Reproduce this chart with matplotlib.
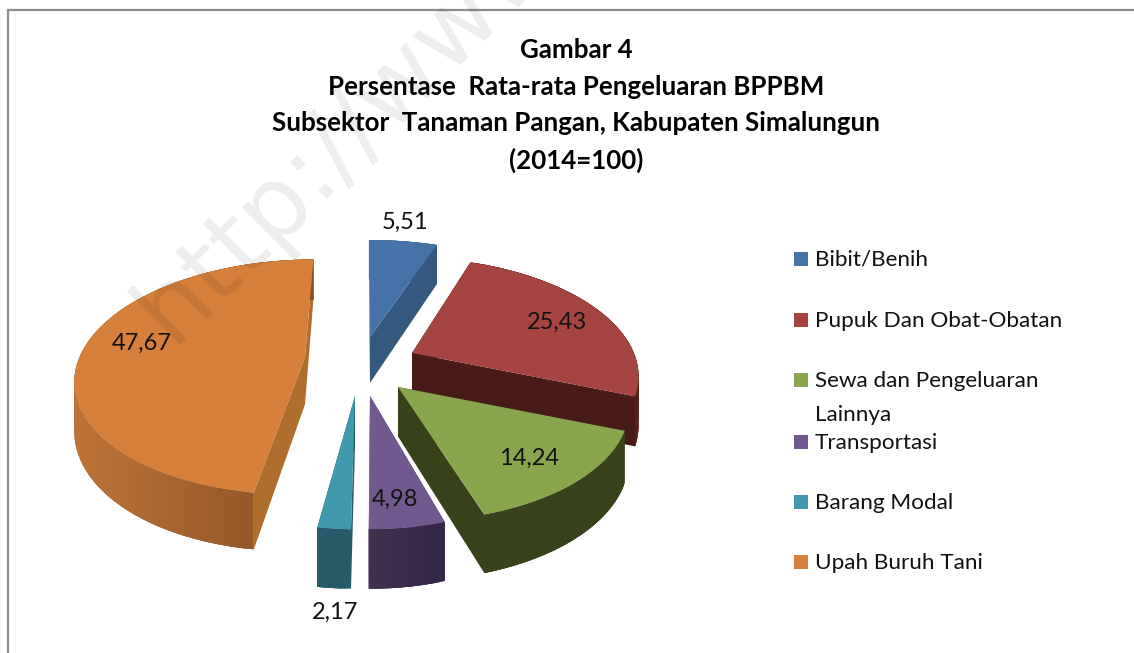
import numpy as np
import matplotlib
matplotlib.use("Agg")
import matplotlib.pyplot as plt
from matplotlib.patches import Polygon, Rectangle

# ---- data
categories = ["Bibit/Benih", "Pupuk Dan Obat-Obatan", "Sewa dan Pengeluaran\nLainnya",
              "Transportasi", "Barang Modal", "Upah Buruh Tani"]
values = [5.51, 25.43, 14.24, 4.98, 2.17, 47.67]
title_lines = ["Gambar 4", "Persentase  Rata-rata Pengeluaran BPPBM",
               "Subsektor  Tanaman Pangan, Kabupaten Simalungun", "(2014=100)"]

# ---- style
top_colors = ["#4572A7", "#A64441", "#89A54E", "#71588F", "#4198AF", "#D6803C"]
cut_colors = ["#34597F", "#481B18", "#38431C", "#3E2D50", "#265B69", "#B06E2E"]
wall_left = ["#34597F", "#4A1A18", "#38431C", "#43304F", "#265B69", "#BE7337"]
wall_right = ["#34597F", "#5A1F1C", "#38431C", "#33264A", "#265B69", "#875026"]
apex_px = [(370, 337), (412, 353), (398, 387), (370, 396), (355, 396), (305, 357)]
radius = [1.05, 0.98, 0.9, 0.87, 0.87, 0.99]
stretch = [1, 1, 1.06, 1, 1, 1]
draw_order = [0, 1, 5, 2, 3, 4]
label_px = [(405, 222), (557, 322), (529, 458), (395, 499), (335, 612), (142, 343)]
legend_y = [261, 322, 382, 444, 504, 564]
title_y = [50, 87, 123, 160]
CX, CY, RX, RY, K, DEPTH = 363, 352, 226, 113.5, 0.17, 47
FONT = "Lato"

fig = plt.figure(figsize=(11.34, 6.53), dpi=100)
ax = fig.add_axes([0, 0, 1, 1])
ax.set_xlim(0, 1134)
ax.set_ylim(653, 0)
ax.axis("off")
ax.add_patch(Rectangle((8, 10), 1300, 800, fc="white", ec="#8c8c8c", lw=1.6, zorder=0))


def to_plane(px):
    w = (CY - px[1]) / RY
    d = 1 - K * w
    return (px[0] - CX) / RX / d, w / d


def project(u, v, drop=False):
    d = 1 + K * v
    x = CX + RX * u / d
    y = CY - RY * v / d
    if drop:
        y = y + DEPTH / d
    return x, y


def mix(c1, c2, t):
    a = np.array(matplotlib.colors.to_rgb(c1))
    b = np.array(matplotlib.colors.to_rgb(c2))
    return tuple(a + (b - a) * t)


fractions = np.array(values) / np.sum(values)
edges = np.concatenate([[0], np.cumsum(fractions)]) * 2 * np.pi

for i in draw_order:
    z = 2 + draw_order.index(i)
    a0, a1 = edges[i], edges[i + 1]
    au, av = to_plane(apex_px[i])
    r = radius[i]
    th = np.linspace(a0, a1, max(8, int((a1 - a0) * 60)))
    us = au + r * stretch[i] * np.sin(th)
    vs = av + r * np.cos(th)
    apex_top = project(au, av)
    apex_bot = project(au, av, True)
    # cut faces
    for j in (0, -1):
        poly = [apex_top, project(us[j], vs[j]), project(us[j], vs[j], True), apex_bot]
        ax.add_patch(Polygon(poly, fc=cut_colors[i], ec="none", zorder=z))
    # outer wall: overlapping strips, so no seams show between them
    xs_top = [project(u, v)[0] for u, v in zip(us, vs)]
    lo, hi = min(xs_top), max(xs_top)
    for j in range(len(th) - 1):
        col = mix(wall_left[i], wall_right[i], (xs_top[j] - lo) / max(hi - lo, 1))
        k = min(j + 3, len(th) - 1)
        idx = list(range(j, k + 1))
        poly = [project(us[n], vs[n]) for n in idx] + [project(us[n], vs[n], True) for n in idx[::-1]]
        ax.add_patch(Polygon(poly, fc=col, ec="none", zorder=z))
    # top face
    pts = [apex_top] + [project(u, v) for u, v in zip(us, vs)]
    ax.add_patch(Polygon(pts, fc=top_colors[i], ec="none", zorder=z))

for v, (x, y) in zip(values, label_px):
    ax.text(x, y, f"{v:.2f}".replace(".", ","), ha="center", va="center",
            fontsize=17, family=FONT, color="#111111", zorder=20)

for lab, y, c in zip(categories, legend_y, top_colors):
    ax.add_patch(Rectangle((794, y - 9), 14, 14, fc=c, ec="none", zorder=5))
    ax.text(815, y - 11, lab, ha="left", va="top", fontsize=16.2, family=FONT,
            color="#111111", linespacing=1.85, zorder=5)

for line, y in zip(title_lines, title_y):
    ax.text(576, y, line, ha="center", va="center", fontsize=18.6, fontweight="bold",
            family=FONT, color="black", zorder=20)

ax.text(172, 345, "http://www", rotation=45, rotation_mode="anchor", ha="left", va="baseline",
        fontsize=72, fontweight="normal", family="DejaVu Sans", color="black", alpha=0.075,
        zorder=15, clip_on=True)

fig.savefig("out.png", dpi=100, facecolor="white")
